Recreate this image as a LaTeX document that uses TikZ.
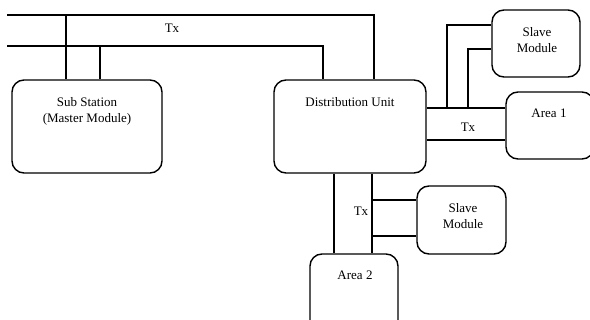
\documentclass[tikz,border=0pt]{standalone}
\usepackage{fontspec}
\setmainfont{Liberation Serif}
\begin{document}
\begin{tikzpicture}[x=1pt,y=-1pt,
  box/.style={draw,line width=1.4pt,rounded corners=12pt,inner sep=0pt},
  wire/.style={line width=1.4pt},
  lbl/.style={font=\fontsize{13}{16}\selectfont,align=center,inner sep=0pt}]
\useasboundingbox (0,0) rectangle (590,320);
\clip (0,0) rectangle (590,320);
% boxes
\node[box,minimum width=150pt,minimum height=93pt] (ss) at (87,126.5) {};
\node[box,minimum width=152pt,minimum height=93pt] (du) at (350,126.5) {};
\node[box,minimum width=88pt,minimum height=67pt] (sm1) at (536,43.5) {};
\node[box,minimum width=88pt,minimum height=67pt] (a1) at (550,125.5) {};
\node[box,minimum width=89pt,minimum height=68pt] (sm2) at (461.5,220) {};
\node[box,minimum width=88pt,minimum height=80pt] (a2) at (354,294) {};
% texts
\node[lbl] (ss-t) at (87,111) {Sub Station\\(Master Module)};
\node[lbl] (du-t) at (350,102) {Distribution Unit};
\node[lbl] (sm1-t) at (537,40) {Slave\\Module};
\node[lbl] (a1-t) at (549,113) {Area 1};
\node[lbl] (sm2-t) at (463,216) {Slave\\Module};
\node[lbl] (a2-t) at (355,275) {Area 2};
\node[lbl] (tx1) at (172,28) {Tx};
\node[lbl] (tx2) at (468,127) {Tx};
\node[lbl] (tx3) at (361,211) {Tx};
% free ends
\coordinate (e1) at (7,15);
\coordinate (e2) at (7,46);
% top bus lines
\draw[wire] (e1) -| (du.north -| 374,0);
\draw[wire] (e1 -| 66,0) -- (ss.north -| 66,0);
\draw[wire] (e2) -| (du.north -| 323,0);
\draw[wire] (e2 -| 100,0) -- (ss.north -| 100,0);
% right link
\draw[wire] (du.east |- 0,108) -- (a1.west |- 0,108);
\draw[wire] (du.east |- 0,140) -- (a1.west |- 0,140);
\draw[wire] (447,108) |- (sm1.west |- 0,25);
\draw[wire] (468,108) |- (sm1.west |- 0,49);
% bottom link
\draw[wire] (du.south -| 334,0) -- (a2.north -| 334,0);
\draw[wire] (du.south -| 372,0) -- (a2.north -| 372,0);
\draw[wire] (372,200) -- (sm2.west |- 0,200);
\draw[wire] (372,236) -- (sm2.west |- 0,236);
\end{tikzpicture}
\end{document}
